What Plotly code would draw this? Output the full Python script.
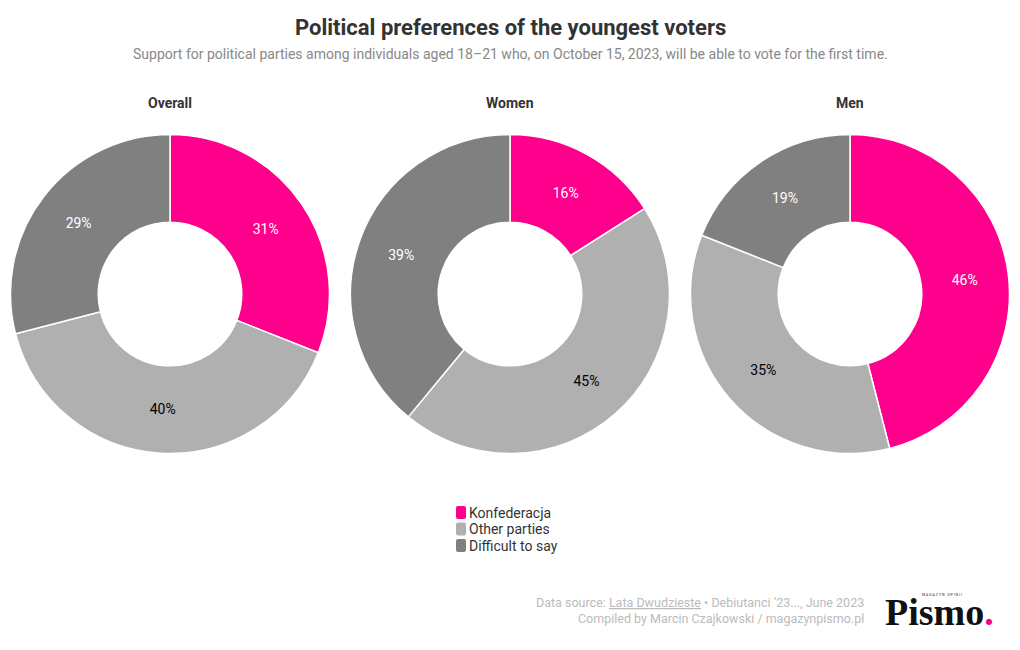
import plotly.graph_objects as go

categories = ["Konfederacja", "Other parties", "Difficult to say"]
groups = ["Overall", "Women", "Men"]
overall = [31, 40, 29]
women = [16, 45, 39]
men = [46, 35, 19]
colors = ["#ff008c", "#b0b0b0", "#808080"]
text_colors = ["white", "black", "white"]

W, H = 1020, 650
OFF = 8  # page body margin


def px(x):
    return (x - OFF) / W


def py(y):
    return (H - (y - OFF)) / H


centers_px = [170, 510, 850]
cy_px = 294
R = 159.5

fig = go.Figure()
for i, (g, vals) in enumerate(zip(groups, [overall, women, men])):
    cx = centers_px[i]
    fig.add_trace(go.Pie(
        labels=categories, values=vals, name=g,
        hole=0.45, sort=False, direction="clockwise", rotation=0,
        marker=dict(colors=colors, line=dict(color="white", width=1.5)),
        texttemplate="%{value}%", textposition="inside",
        insidetextorientation="horizontal",
        textfont=dict(color=text_colors, size=14, family="Roboto"),
        hoverinfo="label+percent",
        showlegend=False,
        domain=dict(x=[px(cx - R), px(cx + R)],
                    y=[py(cy_px + R), py(cy_px - R)]),
    ))
    fig.add_annotation(x=px(cx), y=py(103), xref="paper", yref="paper",
                       xanchor="center", yanchor="middle",
                       text=f"<b>{g}</b>", showarrow=False,
                       font=dict(size=14, color="#333", family="Roboto"))

# legend (manual, compact like the reference)
shapes = []
for k, (cat, col) in enumerate(zip(categories, colors)):
    yc = 512.5 + k * 16.5
    x0, x1 = px(456), px(466)
    y0, y1 = py(yc + 6.5), py(yc - 6.5)
    rx, ry = 2 / W, 2 / H
    path = (f"M {x0+rx},{y0} L {x1-rx},{y0} Q {x1},{y0} {x1},{y0+ry} "
            f"L {x1},{y1-ry} Q {x1},{y1} {x1-rx},{y1} L {x0+rx},{y1} "
            f"Q {x0},{y1} {x0},{y1-ry} L {x0},{y0+ry} Q {x0},{y0} {x0+rx},{y0} Z")
    shapes.append(dict(type="path", path=path, xref="paper", yref="paper",
                       fillcolor=col, line=dict(width=0)))
    fig.add_annotation(x=px(467), y=py(yc), xref="paper", yref="paper",
                       xanchor="left", yanchor="middle", text=cat, showarrow=False,
                       font=dict(size=14, color="#333", family="Roboto"))

fig.add_annotation(x=px(510), y=py(27), xref="paper", yref="paper",
                   xanchor="center", yanchor="middle",
                   text="<b>Political preferences of the youngest voters</b>",
                   showarrow=False, font=dict(size=22, color="#333", family="Roboto"))
fig.add_annotation(x=px(510), y=py(54), xref="paper", yref="paper",
                   xanchor="center", yanchor="middle",
                   text="Support for political parties among individuals aged 18–21 who, on October 15, 2023, will be able to vote for the first time.",
                   showarrow=False, font=dict(size=14, color="#888", family="Roboto"))

fig.add_annotation(x=px(866), y=py(610.5), xref="paper", yref="paper",
                   xanchor="right", yanchor="middle", align="right",
                   text="Data source: <u>Lata Dwudzieste</u> • Debiutanci ’23..., June 2023<br>Compiled by Marcin Czajkowski / magazynpismo.pl",
                   showarrow=False, font=dict(size=12.5, color="#bbb", family="Roboto"))
fig.add_annotation(x=px(883), y=py(612), xref="paper", yref="paper",
                   xanchor="left", yanchor="middle",
                   text="<b>Pismo</b><span style='color:#ff008c'><b>.</b></span>",
                   showarrow=False, font=dict(size=38, color="#111", family="Liberation Serif"))
fig.add_annotation(x=px(920), y=py(595), xref="paper", yref="paper",
                   xanchor="left", yanchor="middle",
                   text="M A G A Z Y N   O P I N I I",
                   showarrow=False, font=dict(size=3.6, color="#333", family="Roboto"))

fig.update_layout(
    width=W, height=H,
    margin=dict(l=0, r=0, t=0, b=0),
    paper_bgcolor="white", plot_bgcolor="white",
    font=dict(family="Roboto", color="#333"),
    showlegend=False,
    shapes=shapes,
)

fig.write_html("out.html")
